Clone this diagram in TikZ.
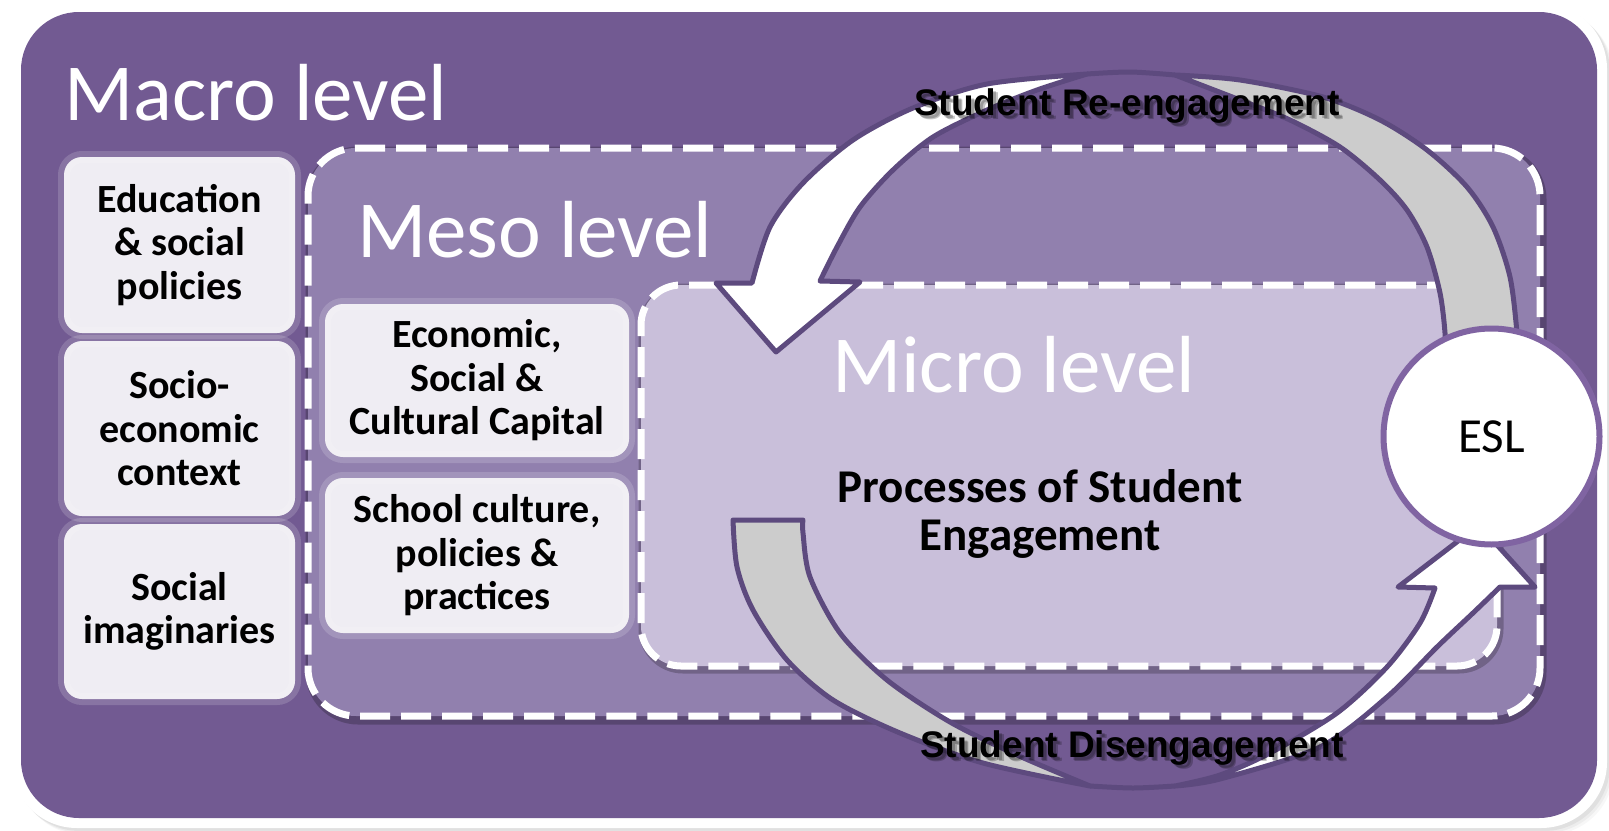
\documentclass[tikz,border=0pt]{standalone}
\usepackage{fontspec}
\setmainfont{Carlito}
\newfontfamily\labelfont{Liberation Sans}
\definecolor{macrobg}{HTML}{725A92}
\definecolor{mesobg}{HTML}{9180AE}
\definecolor{microbg}{HTML}{C9BFDA}
\definecolor{boxfill}{HTML}{EFEDF3}
\definecolor{arrowline}{HTML}{5D4A7E}
\definecolor{arrowgrey}{HTML}{CCCCCC}
\definecolor{eslring}{HTML}{8064A2}
\begin{document}
\begin{tikzpicture}[x=1pt,y=-1pt,
  every node/.style={inner sep=0pt,outer sep=0pt},
  leveltitle/.style={anchor=base west,text=white,font=\fontsize{81}{96}\selectfont},
  factorbox/.style={rounded corners=18pt,fill=boxfill,draw=white,draw opacity=0.16,
    line width=12pt,align=center,font=\bfseries\fontsize{40}{43.5}\selectfont},
  levelbox/.style={draw=white,line width=7pt,dash pattern=on 30pt off 11pt},
  boxshadow/.style={draw=black,draw opacity=0.22,line width=9pt},
  arrowpart/.style={draw=arrowline,line width=5pt,line join=round},
  arrowlabel/.style={anchor=base,font=\labelfont\bfseries\fontsize{37}{40}\selectfont},
  labelshadow/.style={arrowlabel,text=black,text opacity=0.22},
  eslcircle/.style={circle,fill=white,draw=eslring,line width=6pt,minimum size=216pt,
    font=\fontsize{49}{56}\selectfont}]
\useasboundingbox (0,0) rectangle (1609,830);
\fill[white] (0,0) rectangle (1609,830);

% outer frame with a soft drop shadow
\foreach \o/\op in {7/0.03,5/0.04,3/0.05}
  \fill[black,opacity=\op,rounded corners=66pt] (11+\o,3+\o) rectangle (1607+\o,828+\o);
\fill[white,rounded corners=66pt] (11,3) rectangle (1607,828);
\fill[macrobg,rounded corners=58pt] (21,12) rectangle (1597,818);

\node[leveltitle] (macrotitle) at (64,120) {Macro level};

% macro-level factors
\node[factorbox,minimum width=231pt,minimum height=176pt] (edu) at (179.5,245) {Education\\\& social\\policies};
\node[factorbox,minimum width=231pt,minimum height=175pt] (socio) at (179.5,428.5) {Socio-\\economic\\context};
\node[factorbox,minimum width=231pt,minimum height=175pt] (imag) at (179.5,611.5) {Social\\imaginaries};

% meso level
\draw[boxshadow,rounded corners=48pt] (310,151) rectangle (1542,720);
\node[levelbox,fill=mesobg,rounded corners=48pt,minimum width=1232pt,minimum height=568pt] (meso) at (924,432) {};
\node[leveltitle] (mesotitle) at (357,257) {Meso level};

\node[factorbox,minimum width=304pt,minimum height=153pt] (capital) at (477,380.5) {Economic,\\Social \&\\Cultural Capital};
\node[factorbox,minimum width=304pt,minimum height=155pt] (school) at (477,555.5) {School culture,\\policies \&\\practices};

% micro level
\draw[boxshadow,rounded corners=40pt] (643,288) rectangle (1499,669);
\node[levelbox,fill=microbg,rounded corners=40pt,minimum width=856pt,minimum height=381pt] (micro) at (1069,475.5) {};
\node[leveltitle] (microtitle) at (832,392) {Micro level};
\node[align=center,font=\bfseries\fontsize{47}{48}\selectfont] (processes) at (1040,514) {Processes of Student\\Engagement};

% re-engagement arrow: shaded back face, then front face with head
\filldraw[arrowpart,fill=arrowgrey]
  plot[smooth] coordinates {(1445,360) (1445,333) (1440,293) (1427,247) (1407,210) (1380,180) (1340,147) (1290,120) (1240,100) (1175,75)}
  -- plot[smooth] coordinates {(1175,75) (1240,80) (1323,97) (1380,120) (1427,150) (1467,187) (1493,227) (1510,277) (1517,333) (1518,360)}
  -- cycle;
\filldraw[arrowpart,fill=white]
  plot[smooth] coordinates {(752,283) (770,227) (803,183) (853,140) (913,108) (987,84) (1087,74)}
  -- plot[smooth] coordinates {(1087,74) (1037,90) (987,110) (933,137) (893,170) (860,207) (837,247) (820,281)}
  -- (860,282) -- (776,352) -- (716,283) -- cycle;
\draw[arrowline,line width=5pt] plot[smooth] coordinates {(1087,74) (1130,72) (1175,75)};

% disengagement arrow
\filldraw[arrowpart,fill=arrowgrey]
  plot[smooth] coordinates {(733,520) (737,567) (753,610) (787,660) (833,700) (900,733) (983,763) (1090,786)}
  -- plot[smooth] coordinates {(1090,786) (1017,755) (950,722) (887,680) (840,633) (810,577) (803,533) (803,520)}
  -- cycle;
\filldraw[arrowpart,fill=white]
  plot[smooth] coordinates {(1175,786) (1220,779) (1320,747) (1387,697) (1437,647) (1473,613) (1500,587)}
  -- (1535,587) -- (1479,525) -- (1398,587) -- (1435,588)
  -- plot[smooth] coordinates {(1435,588) (1420,623) (1387,667) (1337,713) (1270,753) (1220,775) (1175,786)}
  -- cycle;
\draw[arrowline,line width=5pt] plot[smooth] coordinates {(1090,786) (1133,788) (1175,786)};

\node[eslcircle] (esl) at (1491.5,436.5) {ESL};

% arrow captions with a soft shadow
\node[labelshadow] (reshadowa) at (1130,118) {Student Re-engagement};
\node[labelshadow] (reshadowb) at (1131.5,119.5) {Student Re-engagement};
\node[arrowlabel] (reengage) at (1127,115) {Student Re-engagement};
\node[labelshadow] (disshadowa) at (1135,760) {Student Disengagement};
\node[labelshadow] (disshadowb) at (1136.5,761.5) {Student Disengagement};
\node[arrowlabel] (disengage) at (1132,757) {Student Disengagement};
\end{tikzpicture}
\end{document}
